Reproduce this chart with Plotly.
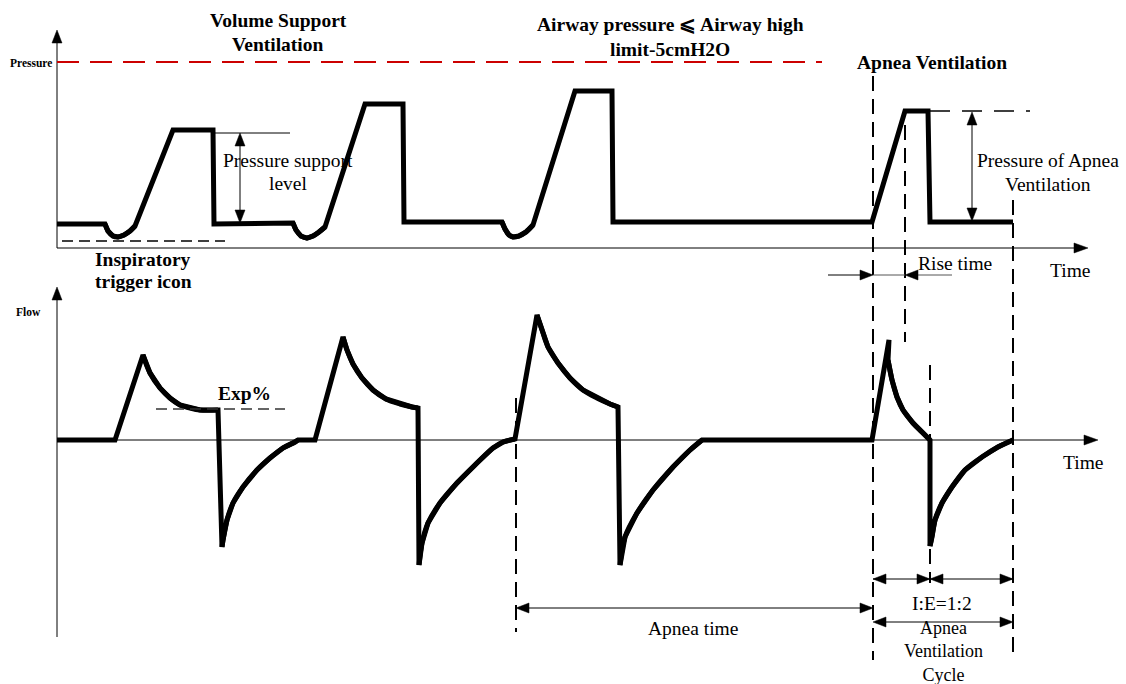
import plotly.graph_objects as go

W, H = 1126, 684

# ---------------- waveform data (time units; origin at the axes crossing) ----------------
t_pressure = [0, 48, 51, 56, 61, 67, 73, 78, 116, 156, 157,
              236, 239, 244, 250, 256, 262, 268, 308, 346, 347,
              445, 448, 452, 456, 462, 469, 476, 518, 555, 556,
              815, 848, 871, 873, 956]
pressure = [24, 24, 17, 12, 11, 13, 17, 22, 118, 118, 24,
            25, 18, 12, 10, 12, 16, 21, 144, 144, 26,
            26, 19, 13, 11, 12, 16, 23, 157, 157, 26,
            26, 137, 137, 26, 26]
# time spans of the curved (non-straight) parts of the pressure trace
pressure_curves = [(48, 78), (236, 268), (445, 476)]

t_flow = [0, 58, 86, 93, 103, 113, 123, 133, 143, 161,
          165, 166, 170, 176, 186, 200, 213, 226, 238, 241, 258,
          286, 290, 296, 305, 316, 329, 343, 355, 361,
          362, 365, 371, 383, 400, 420, 436, 446, 458,
          480, 485, 491, 501, 513, 526, 540, 553, 561,
          563, 568, 580, 596, 616, 633, 645, 815,
          832, 831, 835, 840, 846, 856, 865, 873,
          873, 875, 878, 885, 895, 908, 925, 941, 956]
flow = [0, 0, 85, 67, 52, 42, 35, 32, 30, 30,
        -107, -100, -80, -63, -47, -30, -18, -8, -2, 0, 0,
        103, 90, 76, 62, 50, 41, 36, 33, 32,
        -125, -103, -83, -63, -43, -23, -8, -2, 1,
        125, 110, 93, 77, 62, 50, 42, 36, 33,
        -125, -97, -73, -50, -27, -10, 0, 0,
        100, 80, 60, 43, 30, 17, 8, 0,
        -106, -97, -80, -63, -47, -30, -17, -7, 0]
# index spans of the curved parts of the flow trace
flow_curves = [(2, 9), (10, 19), (21, 29), (30, 38), (39, 47), (48, 54), (57, 63), (64, 72)]

# ---------------- labels ----------------
title_left = ["Volume Support", "Ventilation"]
title_mid = ["Airway pressure \u2a7d Airway high", "limit-5cmH2O"]
title_right = "Apnea Ventilation"
psl_label = ["Pressure support", "level"]
trigger_label = ["Inspiratory", "trigger icon"]
pav_label = ["Pressure of Apnea", "Ventilation"]
cycle_label = ["Apnea", "Ventilation", "Cycle"]

fig = go.Figure()
wave_line = dict(color="black", width=5)
fig.add_trace(go.Scatter(x=t_pressure, y=pressure, mode="lines", line=wave_line,
                         xaxis="x", yaxis="y", hoverinfo="skip", showlegend=False))
for a, b in pressure_curves:
    idx = [i for i, t in enumerate(t_pressure) if a <= t <= b]
    fig.add_trace(go.Scatter(x=[t_pressure[i] for i in idx], y=[pressure[i] for i in idx],
                             mode="lines", line=dict(color="black", width=5, shape="spline", smoothing=1),
                             xaxis="x", yaxis="y", hoverinfo="skip", showlegend=False))
fig.add_trace(go.Scatter(x=t_flow, y=flow, mode="lines", line=wave_line,
                         xaxis="x", yaxis="y2", hoverinfo="skip", showlegend=False))
for a, b in flow_curves:
    fig.add_trace(go.Scatter(x=t_flow[a:b + 1], y=flow[a:b + 1],
                             mode="lines", line=dict(color="black", width=5, shape="spline", smoothing=1),
                             xaxis="x", yaxis="y2", hoverinfo="skip", showlegend=False))


def PX(x):
    return x / W


def PY(y):
    return 1 - y / H


shapes = []
annotations = []


def seg(x0, y0, x1, y1, color="black", width=1.0, dash=None):
    ln = dict(color=color, width=width)
    if dash:
        ln["dash"] = dash
    shapes.append(dict(type="line", xref="paper", yref="paper",
                       x0=PX(x0), y0=PY(y0), x1=PX(x1), y1=PY(y1), line=ln, layer="above"))


def head(tx, ty, d, L=13, hw=5):
    if d == "up":
        pts = [(tx, ty), (tx - hw, ty + L), (tx + hw, ty + L)]
    elif d == "down":
        pts = [(tx, ty), (tx - hw, ty - L), (tx + hw, ty - L)]
    elif d == "right":
        pts = [(tx, ty), (tx - L, ty - hw), (tx - L, ty + hw)]
    else:
        pts = [(tx, ty), (tx + L, ty - hw), (tx + L, ty + hw)]
    path = "M " + " L ".join(f"{PX(a):.6f},{PY(b):.6f}" for a, b in pts) + " Z"
    shapes.append(dict(type="path", xref="paper", yref="paper", path=path,
                       fillcolor="black", line=dict(color="black", width=0.5), layer="above"))


def txt(x, y, s, size=19.5, bold=False, color="black"):
    annotations.append(dict(x=PX(x), y=PY(y), xref="paper", yref="paper",
                            text=f"<b>{s}</b>" if bold else s, showarrow=False,
                            xanchor="center", yanchor="middle",
                            font=dict(family="Liberation Serif, Times New Roman, serif",
                                      size=size, color=color)))


# axes (pressure)
seg(57, 248, 57, 42)
head(57, 30, "up", 13, 5)
seg(57, 248, 1076, 248)
head(1088, 248, "right", 14, 5)
# axes (flow)
seg(57, 637, 57, 298)
head(57, 287, "up", 13, 5)
seg(57, 440, 1086, 440)
head(1098, 440, "right", 14, 5)

# red limit line
seg(57, 62, 822, 62, color="#cc0000", width=2.2, dash="22px,11px")

# trigger dashed line & Exp% line
seg(62, 241, 225, 241, width=1.5, dash="11px,6px")
seg(156, 409, 285, 409, color="#333333", width=1.5, dash="11px,6px")
# apnea pressure level dashed
seg(930, 111, 1030, 111, width=1.5, dash="20px,12px")

# vertical dashed guides
seg(873, 76, 873, 660, width=2, dash="15px,8px")
seg(905, 125, 905, 342, width=2, dash="15px,8px")
seg(1013, 200, 1013, 660, width=2, dash="15px,8px")
seg(930, 365, 930, 583, width=2, dash="15px,8px")
seg(516, 398, 516, 632, width=2, dash="15px,8px")

# pressure support level dimension
seg(213, 133, 290, 133)
seg(240, 145, 240, 211)
head(240, 133, "up", 13, 5)
head(240, 223, "down", 13, 5)

# pressure of apnea ventilation dimension
seg(972, 124, 972, 209)
head(972, 112, "up", 13, 5)
head(972, 221, "down", 13, 5)

# rise time
seg(828, 275, 861, 275)
head(873, 275, "right", 13, 5)
seg(873, 275, 905, 275, color="#555555")
seg(917, 275, 952, 275, color="#555555")
head(905, 275, "left", 13, 5)

# apnea time
seg(529, 608, 860, 608)
head(516, 608, "left", 13, 5)
head(873, 608, "right", 13, 5)

# I:E
seg(873, 579, 930, 579)
head(873, 579, "left", 13, 5)
head(930, 579, "right", 13, 5)
seg(930, 579, 1013, 579)
head(930, 579, "left", 13, 5)
head(1013, 579, "right", 13, 5)

# apnea ventilation cycle
seg(886, 622, 1000, 622)
head(873, 622, "left", 13, 5)
head(1013, 622, "right", 13, 5)

# texts
txt(278, 21, title_left[0], bold=True)
txt(278, 45, title_left[1], bold=True)
txt(670, 24, title_mid[0], bold=True)
txt(670, 49, title_mid[1], bold=True)
txt(932, 62, title_right, bold=True)
txt(31, 63, "Pressure", size=11.5, bold=True)
txt(28, 312, "Flow", size=11.5, bold=True)
txt(288, 160, psl_label[0])
txt(288, 183, psl_label[1])
txt(143, 260, trigger_label[0], bold=True)
txt(143, 282, trigger_label[1], bold=True)
txt(1070, 270, "Time")
txt(955, 263, "Rise time")
txt(1048, 160, pav_label[0])
txt(1048, 184, pav_label[1])
txt(244, 393, "Exp%", bold=True)
txt(1083, 462, "Time")
txt(693, 628, "Apnea time")
txt(942, 603, "I:E=1:2")
txt(943, 651, "<br>".join(cycle_label), size=18)

hidden = dict(showgrid=False, zeroline=False, showticklabels=False, ticks="", showline=False, fixedrange=True)
fig.update_layout(
    width=W, height=H,
    margin=dict(l=0, r=0, t=0, b=0),
    paper_bgcolor="white", plot_bgcolor="white",
    xaxis=dict(range=[-57, W - 57], domain=[0, 1], **hidden),
    yaxis=dict(range=[-52, 248], domain=[1 - 300 / H, 1], **hidden),
    yaxis2=dict(range=[-244, 140], domain=[0, 1 - 300 / H], anchor="x", **hidden),
    shapes=shapes, annotations=annotations,
    hovermode=False, showlegend=False,
)

fig.write_html("out.html", config={"displayModeBar": False},
               post_script="document.body.style.margin='0';document.body.style.overflow='hidden';")
